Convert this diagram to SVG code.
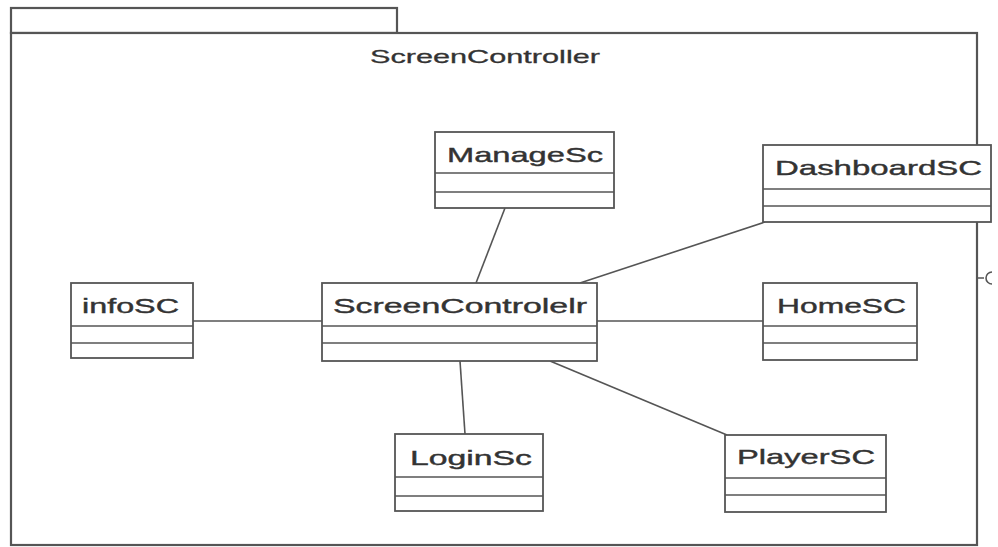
<svg xmlns="http://www.w3.org/2000/svg" width="998" height="547" viewBox="0 0 998 547">
<style>
.pkg{fill:#fff;stroke:#555;stroke-width:2.2}
.box{fill:#fff;stroke:#555;stroke-width:1.8}
.div{stroke:#555;stroke-width:1.6}
.lbl{font-family:"Liberation Sans",Arial,sans-serif;font-size:21px;fill:#333;stroke:#333;stroke-width:0.4}
.ttl{font-family:"Liberation Sans",Arial,sans-serif;font-size:19px;fill:#333;stroke:#333;stroke-width:0.3}
.con{stroke:#555;stroke-width:1.6;fill:none}
</style>
<rect width="998" height="547" fill="#fff"/>
<g id="package">
<rect class="pkg" x="11" y="8" width="386" height="25"/>
<rect class="pkg" x="11" y="33" width="966" height="512"/>
<text class="ttl" x="370" y="63" textLength="230" lengthAdjust="spacingAndGlyphs">ScreenController</text>
<path class="con" d="M977 278 L984 278 M992 272 A6 6 0 0 0 986 278 A6 6 0 0 0 992 284"/>
</g>
<g id="connectors">
<line class="con" x1="505" y1="208" x2="476" y2="283"/>
<line class="con" x1="765" y1="222" x2="580" y2="283"/>
<line class="con" x1="193" y1="321" x2="322" y2="321"/>
<line class="con" x1="597" y1="321" x2="763" y2="321"/>
<line class="con" x1="460" y1="361" x2="465" y2="434"/>
<line class="con" x1="550" y1="361" x2="727" y2="435"/>
</g>
<g id="ManageSc">
<rect class="box" x="435" y="132" width="179" height="76"/>
<line class="div" x1="435" y1="173" x2="614" y2="173"/>
<line class="div" x1="435" y1="192" x2="614" y2="192"/>
<text class="lbl" x="447" y="162" textLength="156" lengthAdjust="spacingAndGlyphs">ManageSc</text>
</g>
<g id="DashboardSC">
<rect class="box" x="763" y="145" width="228" height="77"/>
<line class="div" x1="763" y1="189" x2="991" y2="189"/>
<line class="div" x1="763" y1="206" x2="991" y2="206"/>
<text class="lbl" x="775" y="175" textLength="207" lengthAdjust="spacingAndGlyphs">DashboardSC</text>
</g>
<g id="infoSC">
<rect class="box" x="71" y="283" width="122" height="75"/>
<line class="div" x1="71" y1="326" x2="193" y2="326"/>
<line class="div" x1="71" y1="343" x2="193" y2="343"/>
<text class="lbl" x="82" y="313" textLength="97" lengthAdjust="spacingAndGlyphs">infoSC</text>
</g>
<g id="ScreenControlelr">
<rect class="box" x="322" y="283" width="275" height="78"/>
<line class="div" x1="322" y1="326" x2="597" y2="326"/>
<line class="div" x1="322" y1="343" x2="597" y2="343"/>
<text class="lbl" x="333" y="313" textLength="254" lengthAdjust="spacingAndGlyphs">ScreenControlelr</text>
</g>
<g id="HomeSC">
<rect class="box" x="763" y="283" width="154" height="77"/>
<line class="div" x1="763" y1="326" x2="917" y2="326"/>
<line class="div" x1="763" y1="343" x2="917" y2="343"/>
<text class="lbl" x="777" y="313" textLength="129" lengthAdjust="spacingAndGlyphs">HomeSC</text>
</g>
<g id="LoginSc">
<rect class="box" x="395" y="434" width="148" height="77"/>
<line class="div" x1="395" y1="477" x2="543" y2="477"/>
<line class="div" x1="395" y1="496" x2="543" y2="496"/>
<text class="lbl" x="410" y="465" textLength="122" lengthAdjust="spacingAndGlyphs">LoginSc</text>
</g>
<g id="PlayerSC">
<rect class="box" x="725" y="435" width="161" height="77"/>
<line class="div" x1="725" y1="478" x2="886" y2="478"/>
<line class="div" x1="725" y1="495" x2="886" y2="495"/>
<text class="lbl" x="737" y="464" textLength="138" lengthAdjust="spacingAndGlyphs">PlayerSC</text>
</g>
</svg>
